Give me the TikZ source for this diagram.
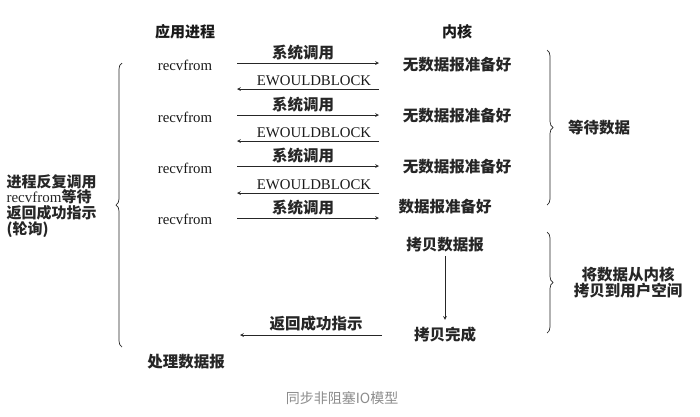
\documentclass[tikz,border=0pt]{standalone}
\usepackage{fontspec}
\setmainfont{Liberation Serif}
\newfontfamily\cjk{Noto Sans CJK SC}
\usepackage{tikz}
\usetikzlibrary{arrows, decorations.pathreplacing}
\tikzstyle{head} = [font=\cjk\bfseries\fontsize{15}{17}\selectfont, text=black!90]
\tikzstyle{state} = [font=\cjk\bfseries\fontsize{15.5}{16}\selectfont, text=black!85]
\tikzstyle{call} = [font=\fontsize{14.8}{16}\selectfont, text=black!90]
\tikzstyle{note} = [anchor=south, inner sep=3pt]
\tikzstyle{arrow} = [line width=0.7pt,->,>=stealth, draw=black!85]
\tikzstyle{bracket} = [line width=0.7pt, draw=black!85, decorate, decoration={brace, amplitude=6pt}]

\begin{document}
\begin{tikzpicture}[x=1pt, y=-1pt]
\useasboundingbox (0,0) rectangle (700,416);
\node (app) [head] at (185,32) {应用进程};
\node (kernel) [head] at (457,32) {内核};

\node (recvA) [call] at (185,65) {recvfrom};
\node (noreadyA) [state] at (457,65) {无数据报准备好};
\coordinate (callA) at (237,63);
\coordinate (hitA) at (379,63);
\coordinate (backA) at (379,89);
\coordinate (gotA) at (237,89);
\draw [arrow] (callA) -- node[note, state, xshift=-5pt] {系统调用} (hitA);
\draw [arrow] (backA) -- node[note, call, xshift=6pt] {EWOULDBLOCK} (gotA);

\node (recvB) [call] at (185,117) {recvfrom};
\node (noreadyB) [state] at (457,116) {无数据报准备好};
\coordinate (callB) at (237,115);
\coordinate (hitB) at (379,115);
\coordinate (backB) at (379,141);
\coordinate (gotB) at (237,141);
\draw [arrow] (callB) -- node[note, state, xshift=-5pt] {系统调用} (hitB);
\draw [arrow] (backB) -- node[note, call, xshift=6pt] {EWOULDBLOCK} (gotB);

\node (recvC) [call] at (185,168) {recvfrom};
\node (noreadyC) [state] at (457,167) {无数据报准备好};
\coordinate (callC) at (237,166);
\coordinate (hitC) at (379,166);
\coordinate (backC) at (379,193);
\coordinate (gotC) at (237,193);
\draw [arrow] (callC) -- node[note, state, xshift=-5pt] {系统调用} (hitC);
\draw [arrow] (backC) -- node[note, call, xshift=6pt] {EWOULDBLOCK} (gotC);

\node (recvD) [call] at (185,219) {recvfrom};
\node (ready) [state] at (445,207) {数据报准备好};
\coordinate (callD) at (237,218);
\coordinate (hitD) at (379,218);
\draw [arrow] (callD) -- node[note, state, xshift=-5pt] {系统调用} (hitD);

\node (copy) [state] at (445,245) {拷贝数据报};
\node (done) [state] at (445,335) {拷贝完成};
\draw [arrow, shorten >=4pt] (copy) -- (done);

\coordinate (retS) at (382,335);
\coordinate (retE) at (240,335);
\draw [arrow] (retS) -- node[note, state, xshift=5pt] {返回成功指示} (retE);
\node (handle) [state] at (186,362) {处理数据报};

% polling loop on the left
\coordinate (loopBot) at (122,347);
\coordinate (loopTop) at (122,63);
\draw [bracket] (loopBot) -- (loopTop);
\node (poll) [state, anchor=west, align=left, font=\cjk\bfseries\fontsize{15}{15.8}\selectfont] at (3,206) {进程反复调用\\{\rmfamily\mdseries recvfrom}等待\\返回成功指示\\(轮询)};

% phases on the right
\coordinate (waitTop) at (547,50);
\coordinate (waitBot) at (547,205);
\draw [bracket] (waitTop) -- (waitBot);
\node (wait) [state] at (599,128) {等待数据};

\coordinate (copyTop) at (547,232);
\coordinate (copyBot) at (547,333);
\draw [bracket] (copyTop) -- (copyBot);
\node (phase) [state, align=center] at (628,283) {将数据从内核\\拷贝到用户空间};

\node (caption) [font=\cjk\fontsize{14}{16}\selectfont, text=black!45] at (342,398) {同步非阻塞IO模型};
\end{tikzpicture}
\end{document}
